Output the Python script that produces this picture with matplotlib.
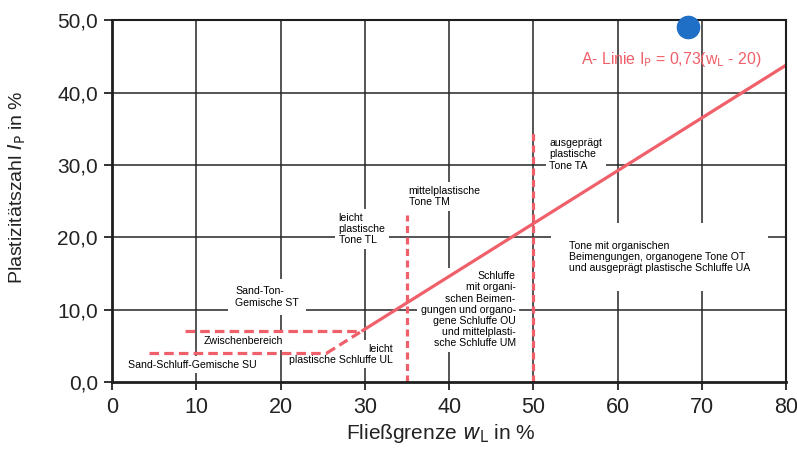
import matplotlib.pyplot as plt

plt.rcParams['font.family'] = ['Liberation Sans', 'DejaVu Sans']

# Plastizitaetsdiagramm (DIN 18196)
x_ticks = [0, 10, 20, 30, 40, 50, 60, 70, 80]
y_ticks = [0, 10, 20, 30, 40, 50]
y_ticklabels = ['0,0', '10,0', '20,0', '30,0', '40,0', '50,0']

# A-Linie, durchgezogener Teil und gestrichelter Uebergang
a_line_wl = [29.6, 80.0]
a_line_ip = [7.0, 43.8]
a_dash_wl = [25.5, 29.6]
a_dash_ip = [4.0, 7.0]

# Zwischenbereich (Ip = 4 und Ip = 7)
ip7_wl = [8.7, 29.6]
ip7_ip = [7.0, 7.0]
ip4_wl = [4.4, 25.5]
ip4_ip = [4.0, 4.0]

# senkrechte Grenzen wL = 35 und wL = 50
bound_wl = [35.0, 50.0]
bound_top = [23.1, 34.8]

# Messpunkt
point_wl = [68.4]
point_ip = [49.1]

red = '#f0606a'
grid_c = '#262626'

fig = plt.figure(figsize=(7.97, 4.58), dpi=100)
ax = fig.add_axes([0.1405, 0.166, 0.846, 0.79])
ax.set_xlim(0, 80)
ax.set_ylim(0, 50)

for x in x_ticks[1:-1]:
    ax.axvline(x, color=grid_c, lw=1.1, zorder=1)
for y in y_ticks[1:-1]:
    ax.axhline(y, color=grid_c, lw=1.1, zorder=1)

ax.plot(a_line_wl, a_line_ip, color=red, lw=2.3, zorder=4, solid_capstyle='butt')
ax.plot(a_dash_wl, a_dash_ip, color=red, lw=2.3, ls=(0, (3, 1.6)), zorder=4)
ax.plot(ip7_wl, ip7_ip, color=red, lw=2.3, ls=(0, (3, 1.6)), zorder=4)
ax.plot(ip4_wl, ip4_ip, color=red, lw=2.3, ls=(0, (3, 1.6)), zorder=4)
ax.vlines(bound_wl, 0, bound_top, color=red, lw=2.3, ls=(0, (2.2, 1.4)), zorder=4)

ax.plot(point_wl, point_ip, 'o', color='#1f6fc6', ms=16, zorder=6, clip_on=False)

box = dict(facecolor='white', edgecolor='none', pad=2.5)
fs = 7.6
ax.text(26.9, 23.4, 'leicht\nplastische\nTone TL', fontsize=fs, va='top', ha='left',
        bbox=box, zorder=3, linespacing=1.15)
ax.text(35.2, 27.1, 'mittelplastische\nTone TM', fontsize=fs, va='top', ha='left',
        bbox=box, zorder=3, linespacing=1.15)
ax.text(51.9, 33.7, 'ausgeprägt\nplastische\nTone TA', fontsize=fs, va='top', ha='left',
        bbox=box, zorder=3, linespacing=1.15)
ax.text(54.2, 19.5, 'Tone mit organischen\nBeimengungen, organogene Tone OT\nund ausgeprägt plastische Schluffe UA',
        fontsize=fs, va='top', ha='left', bbox=dict(facecolor='white', edgecolor='none', pad=13),
        zorder=3, linespacing=1.15)
ax.text(47.9, 15.3, 'Schluffe\nmit organi-\nschen Beimen-\ngungen und organo-\ngene Schluffe OU\nund mittelplasti-\nsche Schluffe UM',
        fontsize=fs, va='top', ha='right', multialignment='right', bbox=box, zorder=3,
        linespacing=1.15)
ax.text(14.6, 13.2, 'Sand-Ton-\nGemische ST', fontsize=fs, va='top', ha='left',
        bbox=dict(facecolor='white', edgecolor='none', pad=5), zorder=3, linespacing=1.15)
ax.text(15.6, 5.6, 'Zwischenbereich', fontsize=fs, va='center', ha='center',
        bbox=box, zorder=3)
ax.text(1.9, 2.4, 'Sand-Schluff-Gemische SU', fontsize=fs, va='center', ha='left',
        bbox=box, zorder=3)
ax.text(33.3, 5.3, 'leicht\nplastische Schluffe UL', fontsize=fs, va='top', ha='right',
        multialignment='right', bbox=box, zorder=3, linespacing=1.15)

ax.text(55.7, 44.5, r'A- Linie I$_\mathrm{P}$ = 0,73(w$_\mathrm{L}$ - 20)', color=red,
        fontsize=11.4, va='center', ha='left', zorder=5)

ax.set_xticks(x_ticks)
ax.set_yticks(y_ticks)
ax.set_yticklabels(y_ticklabels)
ax.tick_params(axis='both', labelsize=15.5, length=6, width=1.3, direction='out',
               colors='#222222')
ax.tick_params(axis='x', pad=5)
ax.tick_params(axis='y', labelsize=15, pad=4)

for side in ['left', 'bottom']:
    ax.spines[side].set_linewidth(2.0)
for side in ['top', 'right']:
    ax.spines[side].set_linewidth(1.5)
for s in ax.spines.values():
    s.set_color('#1e1e1e')
    s.set_zorder(5)

ax.set_xlabel(r'Fließgrenze $w_\mathrm{L}$ in %', fontsize=15, color='#222222')
ax.xaxis.set_label_coords(0.487, -0.11)
ax.set_ylabel(r'Plastizitätszahl $I_\mathrm{P}$ in %', fontsize=14, color='#222222')
ax.yaxis.set_label_coords(-0.124, 0.539)

fig.savefig('out.png', dpi=100)
